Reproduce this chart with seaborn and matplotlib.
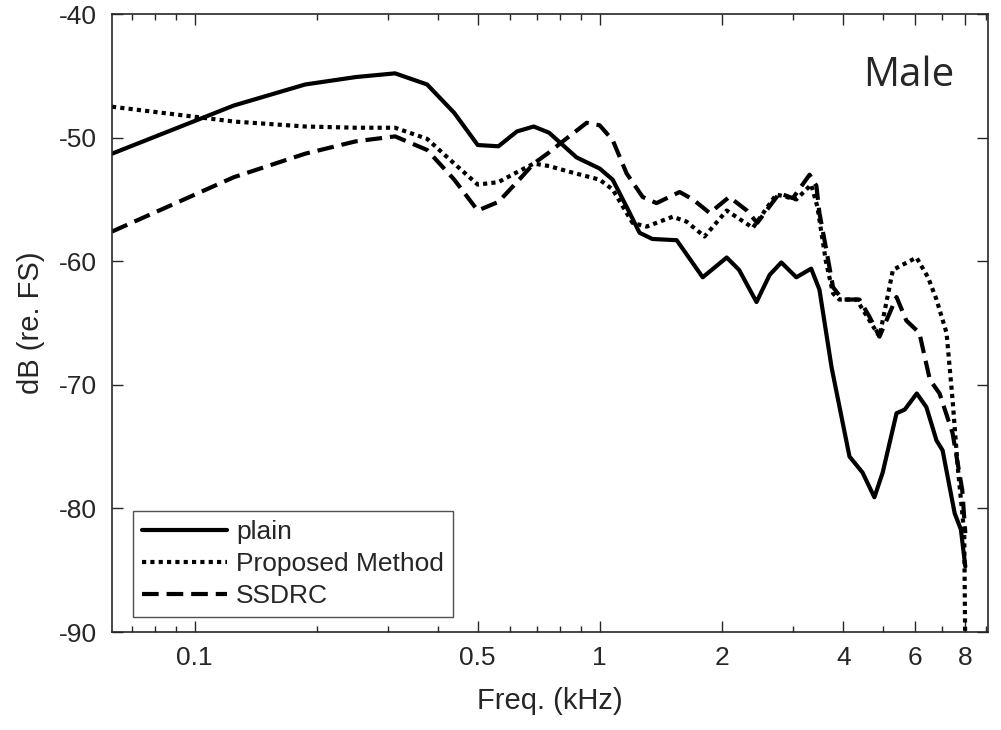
import numpy as np
import pandas as pd
import matplotlib
matplotlib.use("Agg")
import matplotlib.pyplot as plt
import seaborn as sns
from matplotlib.ticker import FixedLocator, NullFormatter

# frequencies in kHz, levels in dB re. FS
plain_freq = [0.0625, 0.125, 0.1875, 0.25, 0.3125, 0.375, 0.4375, 0.5, 0.5625, 0.625,
              0.6875, 0.75, 0.877, 1.0, 1.077, 1.166, 1.255, 1.35, 1.55, 1.797, 2.06,
              2.21, 2.44, 2.63, 2.81, 3.06, 3.33, 3.49, 3.74, 4.14, 4.46, 4.77, 5.0,
              5.41, 5.67, 6.07, 6.41, 6.79, 7.03, 7.53, 7.8, 8.0]
plain_db = [-51.3, -47.4, -45.7, -45.1, -44.8, -45.7, -48.0, -50.6, -50.7, -49.5,
            -49.1, -49.6, -51.6, -52.5, -53.4, -55.6, -57.7, -58.2, -58.3, -61.3, -59.7,
            -60.7, -63.3, -61.1, -60.1, -61.3, -60.6, -62.3, -68.6, -75.8, -77.1, -79.1, -77.1,
            -72.3, -72.0, -70.7, -71.8, -74.5, -75.3, -80.4, -81.7, -84.7]

prop_freq = [0.0625, 0.125, 0.1875, 0.25, 0.3125, 0.375, 0.4375, 0.5, 0.5625, 0.625,
             0.6875, 0.75, 0.85, 1.0, 1.077, 1.206, 1.306, 1.515, 1.64, 1.816, 2.06,
             2.39, 2.73, 3.06, 3.33, 3.45, 3.62, 3.77, 3.91, 4.31, 4.64, 4.91, 5.3,
             6.06, 6.47, 6.79, 7.19, 7.44, 7.66, 7.95, 8.0]
prop_db = [-47.5, -48.7, -49.1, -49.2, -49.2, -50.1, -52.1, -53.8, -53.6, -52.8,
           -52.1, -52.3, -52.8, -53.4, -54.2, -56.9, -57.2, -56.4, -56.8, -58.0, -55.9,
           -57.3, -54.6, -55.0, -53.8, -55.6, -60.0, -62.6, -63.1, -63.1, -64.8, -66.1, -60.7,
           -59.7, -61.3, -63.1, -65.8, -71.2, -76.6, -82.0, -92.0]

ssdrc_freq = [0.0625, 0.125, 0.1875, 0.25, 0.3125, 0.375, 0.4375, 0.5, 0.5625, 0.625,
              0.6875, 0.75, 0.797, 0.929, 1.0, 1.077, 1.166, 1.277, 1.382, 1.576, 1.70,
              1.87, 2.09, 2.31, 2.45, 2.78, 3.0, 3.30, 3.43, 3.49, 3.63, 3.77, 3.98,
              4.38, 4.64, 4.91, 5.41, 5.72, 6.16, 6.54, 6.91, 7.44, 7.86, 8.0]
ssdrc_db = [-57.6, -53.2, -51.3, -50.3, -49.9, -51.0, -53.4, -55.9, -55.2, -53.6,
            -52.1, -51.2, -50.5, -48.8, -49.0, -50.2, -52.9, -54.8, -55.3, -54.4, -55.0,
            -56.1, -54.8, -55.9, -56.9, -54.5, -54.9, -53.0, -53.9, -56.1, -59.1, -62.1, -63.1,
            -63.1, -64.5, -66.1, -62.9, -64.8, -65.8, -69.6, -70.7, -73.9, -78.5, -82.0]

series = ["plain", "Proposed Method", "SSDRC"]
df = pd.concat([
    pd.DataFrame({"freq": plain_freq, "db": plain_db, "method": series[0]}),
    pd.DataFrame({"freq": prop_freq, "db": prop_db, "method": series[1]}),
    pd.DataFrame({"freq": ssdrc_freq, "db": ssdrc_db, "method": series[2]}),
])

sns.set_theme(style="ticks")
plt.rcParams["font.family"] = ["Liberation Sans", "DejaVu Sans"]
plt.rcParams["axes.unicode_minus"] = False

fig = plt.figure(figsize=(10.01, 7.30), dpi=100)
ax = fig.add_axes([0.1119, 0.1342, 0.8751, 0.8466])

styles = {"plain": "-", "Proposed Method": (0, (1, 1)), "SSDRC": (0, (4.0, 1.9))}
for name in series:
    sub = df[df["method"] == name]
    sns.lineplot(data=sub, x="freq", y="db", ax=ax, color="black", lw=3.0,
                 linestyle=styles[name], label=name, sort=False, estimator=None,
                 dash_capstyle="butt")

ax.set_xscale("log")
ax.set_xlim(0.0625, 9.1)
ax.set_ylim(-90, -40)
ax.xaxis.set_major_locator(FixedLocator([0.1, 0.5, 1, 2, 4, 6, 8]))
ax.set_xticklabels(["0.1", "0.5", "1", "2", "4", "6", "8"])
ax.xaxis.set_minor_locator(FixedLocator([0.07, 0.08, 0.09, 0.2, 0.3, 0.4, 0.6, 0.7,
                                         0.8, 0.9, 3, 5, 7, 9]))
ax.xaxis.set_minor_formatter(NullFormatter())
ax.set_yticks(np.arange(-90, -39, 10))

ax.tick_params(which="both", direction="in", top=True, right=True, labelsize=19,
               color="#262626", labelcolor="#262626")
ax.tick_params(axis="x", pad=10)
ax.tick_params(axis="y", pad=11)
ax.tick_params(which="major", length=8, width=1)
ax.tick_params(which="minor", length=4, width=1)
for sp in ax.spines.values():
    sp.set_color("#262626")
    sp.set_linewidth(1.2)

ax.set_xlabel("Freq. (kHz)", fontsize=21, color="#262626", labelpad=12)
ax.set_ylabel("dB (re. FS)", fontsize=21, color="#262626", labelpad=10)

ax.text(0.91, 0.9, "Male", transform=ax.transAxes, ha="center", va="center",
        fontsize=29, family="Open Sans")

leg = ax.legend(loc="lower left", bbox_to_anchor=(0.024, 0.024), borderaxespad=0,
                fontsize=19, handlelength=3.2, frameon=True, fancybox=False,
                borderpad=0.35, labelspacing=0.3, handletextpad=0.35)
leg.get_frame().set_edgecolor("#262626")
leg.get_frame().set_linewidth(1.0)

fig.savefig("out.png", dpi=100, facecolor="white")
